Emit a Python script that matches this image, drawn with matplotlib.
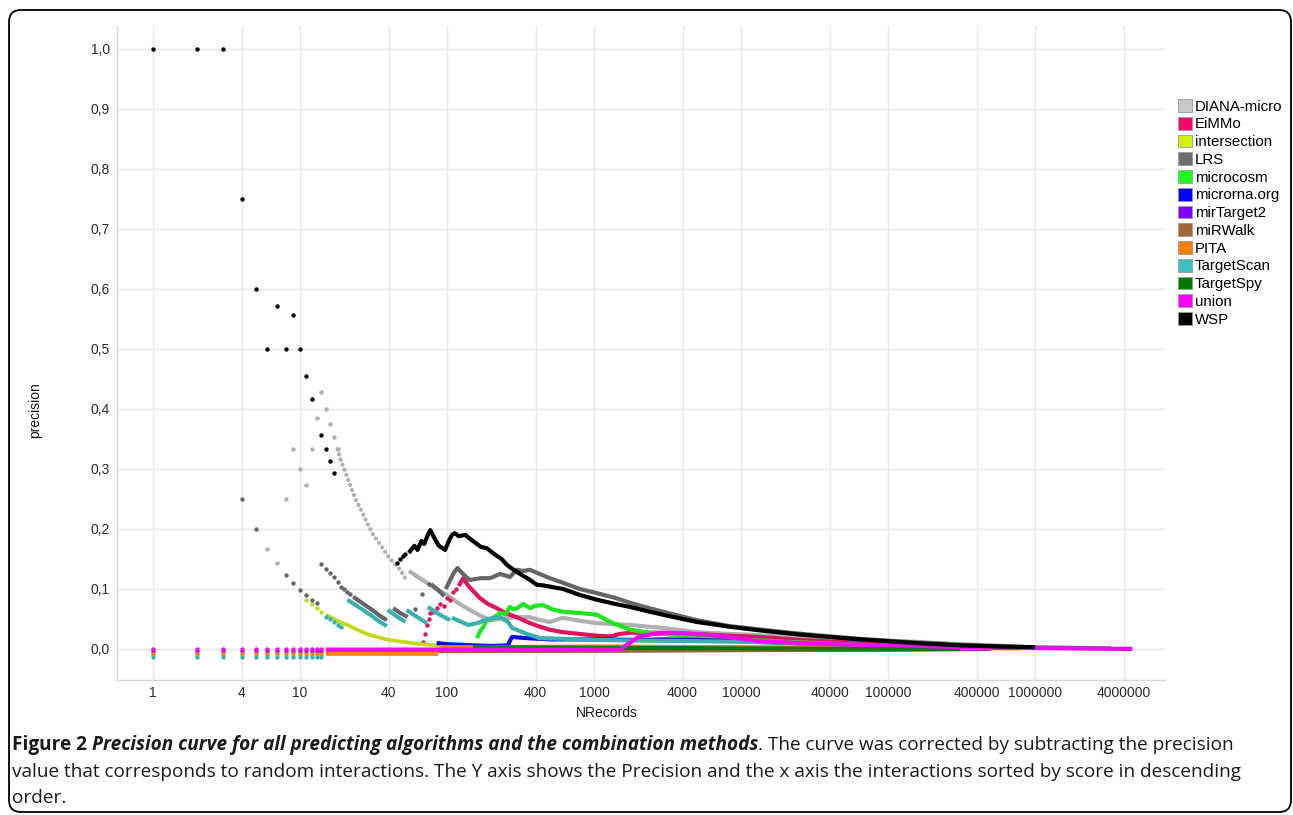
import matplotlib
matplotlib.use('Agg')
import matplotlib.pyplot as plt
from matplotlib.patches import Patch, FancyBboxPatch
from matplotlib.ticker import NullLocator
from matplotlib.transforms import IdentityTransform

nan = float('nan')

# legend order = drawing order
series_names = ['DIANA-micro', 'EiMMo', 'intersection', 'LRS', 'microcosm', 'microrna.org',
                'mirTarget2', 'miRWalk', 'PITA', 'TargetScan', 'TargetSpy', 'union', 'WSP']
series_colors = ['#B0B0B0', '#DE135E', '#C3D91E', '#666666', '#1EE61E', '#0A0AE6',
                 '#8A0AF0', '#9A6633', '#FF7F0A', '#3AB0B0', '#0A780A', '#F00AF0', '#000000']
swatch_colors = ['#C8C8C8', '#F0086A', '#D2F00F', '#6E6E6E', '#1EFF1E', '#0000FF',
                 '#8000FF', '#A0683A', '#FF8000', '#3CC0C0', '#007800', '#FF00FF', '#000000']

x_ticks = [1, 4, 10, 40, 100, 400, 1000, 4000, 10000, 40000, 100000, 400000, 1000000, 4000000]
y_ticks = [0.0, 0.1, 0.2, 0.3, 0.4, 0.5, 0.6, 0.7, 0.8, 0.9, 1.0]

# first records, shown as separate points near zero
zero_n = [1, 2, 3, 4, 5, 6, 7, 8, 9, 10, 11, 12, 13, 14]
zero_union = [0.0] * 14
zero_mirtarget2 = [-0.004] * 14
zero_pita = [-0.008] * 14
zero_targetscan = [-0.013] * 14

# WSP
wsp_dot_n = [1, 2, 3, 4, 5, 6, 7, 8, 9, 10, 11, 12, 14, 15, 16, 17, 46, 48, 50, 52]
wsp_dot_p = [1.0, 1.0, 1.0, 0.75, 0.6, 0.5, 0.571, 0.5, 0.556, 0.5, 0.455, 0.417, 0.357,
             0.333, 0.313, 0.294, 0.143, 0.15, 0.155, 0.158]
wsp_line_n = [55, 60, 63, 67, 70, 74, 77, 82, 88, 93, 97, 103, 108, 113, 120, 133, 150, 170,
              186, 210, 235, 256, 280, 300, 340, 367, 408, 450, 500, 615, 800, 1047, 1400,
              1758, 2300, 2950, 4000, 5000, 6500, 8400, 13400, 25000, 40000, 64000, 150000,
              310000, 600000, 1000000]
wsp_line_p = [0.16, 0.172, 0.165, 0.18, 0.175, 0.19, 0.198, 0.185, 0.172, 0.168, 0.165, 0.18,
              0.19, 0.193, 0.188, 0.19, 0.18, 0.17, 0.168, 0.158, 0.15, 0.14, 0.133, 0.128,
              0.12, 0.115, 0.107, 0.106, 0.104, 0.1, 0.09, 0.082, 0.075, 0.07, 0.063, 0.057,
              0.05, 0.045, 0.041, 0.037, 0.031, 0.024, 0.02, 0.016, 0.01, 0.006, 0.004, 0.003]

# LRS
lrs_dot_n = [4, 5, 8, 9, 10, 11, 12, 13, 14, 15, 16, 17, 18, 19, 20, 21, 22, 61, 68, 75]
lrs_dot_p = [0.25, 0.2, 0.123, 0.11, 0.098, 0.09, 0.082, 0.077, 0.142, 0.133, 0.127, 0.12,
             0.111, 0.104, 0.1, 0.095, 0.091, 0.067, 0.092, 0.108]
lrs_line_n = [23, 27, 31, 35, 39, 41, 43, 48, 54, 60, 78, 88, 96, 97, 98, 105, 112, 118, 125,
              135, 143, 170, 196, 230, 268, 297, 330, 367, 408, 500, 588, 800, 1047, 1400,
              1758, 2300, 2950, 4000, 5000, 6500, 8400, 14000, 21700, 40000, 64000, 150000,
              310000, 830000, 3300000]
lrs_line_p = [0.087, 0.075, 0.065, 0.055, 0.048, nan, 0.068, 0.06, 0.053, nan, 0.108, 0.097,
              0.088, nan, 0.1, 0.115, 0.128, 0.135, 0.128, 0.12, 0.115, 0.118, 0.118, 0.125,
              0.12, 0.132, 0.13, 0.132, 0.127, 0.118, 0.112, 0.1, 0.093, 0.085, 0.077, 0.069,
              0.062, 0.054, 0.048, 0.043, 0.038, 0.032, 0.027, 0.021, 0.017, 0.011, 0.007,
              0.003, 0.001]

# DIANA-micro
diana_dot_n = [6, 7, 8, 9, 10, 11, 12, 13, 14, 15, 16, 17, 18]
diana_dot_p = [0.167, 0.143, 0.25, 0.333, 0.3, 0.273, 0.333, 0.385, 0.429, 0.4, 0.375, 0.353,
               0.333]
diana_dotted_n = [18, 19, 20, 21, 22, 23, 24, 26, 28, 31, 36, 41, 48, 53]
diana_dotted_p = [0.333, 0.313, 0.3, 0.285, 0.272, 0.26, 0.248, 0.232, 0.215, 0.193, 0.17,
                  0.15, 0.132, 0.115]
diana_line_n = [55, 70, 85, 100, 120, 143, 170, 196, 230, 297, 367, 430, 500, 615, 800, 1047,
                1758, 2950, 5000, 8400, 13400, 21700, 64000, 150000, 310000, 830000]
diana_line_p = [0.13, 0.113, 0.1, 0.09, 0.076, 0.065, 0.055, 0.048, 0.05, 0.053, 0.053, 0.048,
                0.045, 0.052, 0.047, 0.043, 0.04, 0.035, 0.028, 0.025, 0.023, 0.02, 0.015,
                0.012, 0.008, 0.004]

# EiMMo
eimmo_dot_n = [69, 71, 73, 75, 77, 80, 85, 90, 95, 100, 105, 110, 115]
eimmo_dot_p = [0.012, 0.025, 0.04, 0.05, 0.06, 0.062, 0.068, 0.075, 0.072, 0.085, 0.082, 0.095,
               0.1]
eimmo_line_n = [120, 125, 129, 140, 167, 190, 218, 250, 297, 367, 430, 500, 615, 800, 1047,
                1300, 1500, 1758, 2950, 5000, 8400, 13400, 25000, 64000, 150000, 310000]
eimmo_line_p = [0.105, 0.112, 0.118, 0.105, 0.085, 0.075, 0.068, 0.06, 0.053, 0.043, 0.037,
                0.032, 0.028, 0.025, 0.022, 0.021, 0.025, 0.027, 0.027, 0.025, 0.022, 0.02,
                0.015, 0.01, 0.006, 0.004]

# intersection
inter_dot_n = [11, 12, 13, 14]
inter_dot_p = [0.082, 0.075, 0.068, 0.062]
inter_line_n = [15, 17, 19, 21, 25, 30, 40, 50, 65, 77, 90]
inter_line_p = [0.057, 0.05, 0.044, 0.04, 0.031, 0.023, 0.015, 0.012, 0.008, 0.007, 0.005]

# microcosm
mc_line_n = [160, 168, 175, 186, 200, 215, 230, 250, 268, 285, 300, 330, 367, 400, 450, 520,
             615, 800, 1047, 1290, 1758, 2400, 4000, 8000, 20000, 64000, 150000]
mc_line_p = [0.018, 0.03, 0.035, 0.048, 0.05, 0.055, 0.06, 0.058, 0.07, 0.066, 0.068, 0.075,
             0.068, 0.072, 0.073, 0.066, 0.062, 0.06, 0.057, 0.045, 0.032, 0.027, 0.022,
             0.017, 0.012, 0.007, 0.004]

# microrna.org
mrna_line_n = [85, 100, 150, 200, 260, 270, 277, 350, 500, 1047, 2000, 3000, 5000, 10000,
               20000, 50000, 100000]
mrna_line_p = [0.01, 0.008, 0.006, 0.005, 0.006, 0.015, 0.02, 0.018, 0.016, 0.016, 0.015,
               0.016, 0.015, 0.013, 0.01, 0.006, 0.004]

# mirTarget2, miRWalk, PITA, TargetSpy (close to zero)
mt2_line_n = [15, 1000, 100000, 500000]
mt2_line_p = [-0.003, -0.002, -0.001, 0.0]
mrw_line_n = [15, 1000, 100000, 200000]
mrw_line_p = [-0.004, -0.003, -0.001, 0.0]
pita_line_n = [15, 87, 88, 90, 200, 1000, 10000, 100000, 800000]
pita_line_p = [-0.008, -0.008, nan, 0.003, 0.003, 0.004, 0.003, 0.002, 0.001]
tspy_line_n = [150, 1000, 10000, 100000, 310000]
tspy_line_p = [0.003, 0.002, 0.001, 0.0, 0.0]

# TargetScan
ts_dot_n = [15, 16, 17, 18, 19]
ts_dot_p = [0.053, 0.05, 0.045, 0.04, 0.037]
ts_line_n = [21, 25, 30, 35, 39, 39.2, 39.5, 45, 52, 52.5, 53, 62, 73, 73.5, 74, 88, 105, 106,
             108, 125, 140, 160, 190, 230, 260, 277, 350, 430, 615, 1047, 2000, 5000, 10000,
             30000, 100000, 200000]
ts_line_p = [0.082, 0.07, 0.057, 0.045, 0.038, nan, 0.065, 0.055, 0.045, nan, 0.065, 0.054,
             0.043, nan, 0.07, 0.058, 0.048, nan, 0.052, 0.045, 0.04, 0.043, 0.05, 0.053,
             0.045, 0.035, 0.025, 0.018, 0.017, 0.015, 0.014, 0.013, 0.012, 0.009, 0.005,
             0.003]

# union
union_line_n = [15, 1500, 1700, 2000, 2500, 3150, 4000, 6400, 13400, 25000, 64000, 120000,
                310000, 575000, 4600000]
union_line_p = [-0.001, -0.001, 0.008, 0.02, 0.025, 0.027, 0.026, 0.023, 0.013, 0.01, 0.007,
                0.006, 0.003, 0.002, 0.0]

W, H = 1293, 815
fig = plt.figure(figsize=(W / 100, H / 100), dpi=100)
fig.patch.set_facecolor('white')

ax = fig.add_axes([117 / W, 1 - 680 / H, (1165 - 117) / W, (680 - 26) / H])
ax.set_xscale('log')
ax.set_xlim(0.569, 7.66e6)
ax.set_ylim(-0.0517, 1.038)

col = dict(zip(series_names, series_colors))
LW = 3.0
DOT = 10


def dots(n, p, name, z):
    ax.scatter(n, p, s=DOT, color=col[name], linewidths=0, zorder=z)


def line(n, p, name, z, lw=LW):
    ax.plot(n, p, color=col[name], lw=lw, solid_capstyle='butt', zorder=z)


def dotted(n, p, name, z):
    ax.plot(n, p, color=col[name], lw=3.0, linestyle=(0, (0.05, 1.25)),
            dash_capstyle='round', zorder=z)


z = 3
dotted(diana_dotted_n, diana_dotted_p, 'DIANA-micro', z)
dots(diana_dot_n, diana_dot_p, 'DIANA-micro', z)
line(diana_line_n, diana_line_p, 'DIANA-micro', z)
z += 1
dots(eimmo_dot_n, eimmo_dot_p, 'EiMMo', z)
line(eimmo_line_n, eimmo_line_p, 'EiMMo', z)
z += 1
dots(inter_dot_n, inter_dot_p, 'intersection', z)
line(inter_line_n, inter_line_p, 'intersection', z, lw=2.7)
z += 1
dots(lrs_dot_n, lrs_dot_p, 'LRS', z)
line(lrs_line_n, lrs_line_p, 'LRS', z)
z += 1
line(mc_line_n, mc_line_p, 'microcosm', z)
z += 1
line(mrna_line_n, mrna_line_p, 'microrna.org', z)
z += 1
dots(zero_n, zero_mirtarget2, 'mirTarget2', z)
line(mt2_line_n, mt2_line_p, 'mirTarget2', z)
z += 1
line(mrw_line_n, mrw_line_p, 'miRWalk', z)
z += 1
dots(zero_n, zero_pita, 'PITA', z)
line(pita_line_n, pita_line_p, 'PITA', z)
z += 1
dots(zero_n, zero_targetscan, 'TargetScan', z)
dots(ts_dot_n, ts_dot_p, 'TargetScan', z)
line(ts_line_n, ts_line_p, 'TargetScan', z)
z += 1
line(tspy_line_n, tspy_line_p, 'TargetSpy', z)
z += 1
dots(zero_n, zero_union, 'union', z)
line(union_line_n, union_line_p, 'union', z)
z += 1
dots(wsp_dot_n, wsp_dot_p, 'WSP', z)
line(wsp_line_n, wsp_line_p, 'WSP', z)

# axes styling
ax.set_xticks(x_ticks)
ax.set_xticklabels([str(t) for t in x_ticks])
ax.xaxis.set_minor_locator(NullLocator())
ax.set_yticks(y_ticks)
ax.set_yticklabels([('%.1f' % t).replace('.', ',') for t in y_ticks])
ax.grid(True, color='#E6E6E6', lw=1.0, zorder=0)
ax.set_axisbelow(True)
for side in ['top', 'right']:
    ax.spines[side].set_visible(False)
for side in ['left', 'bottom']:
    ax.spines[side].set_color('#D9D9D9')
    ax.spines[side].set_linewidth(1.0)
ax.tick_params(axis='both', length=0, labelsize=10, labelcolor='#2B2B2B')
ax.tick_params(axis='y', pad=5)
ax.tick_params(axis='x', pad=4)
for lab in ax.get_xticklabels() + ax.get_yticklabels():
    lab.set_family('Liberation Sans')

fig.text(35 / W, 1 - 410 / H, 'precision', rotation=90, ha='center', va='center',
         fontsize=10, family='Liberation Sans', color='#1A1A1A')
fig.text(607 / W, 1 - 713 / H, 'NRecords', ha='center', va='center',
         fontsize=10, family='Liberation Sans', color='#1A1A1A')

# legend
handles = [Patch(facecolor=c, edgecolor='#9A9A9A', linewidth=0.6) for c in swatch_colors]
leg = fig.legend(handles, series_names, loc='upper left',
                 bbox_to_anchor=(1178 / W, 1 - 99 / H), frameon=False,
                 prop={'family': 'Liberation Sans', 'size': 10.8},
                 handlelength=0.93, handleheight=0.93, handletextpad=0.2,
                 labelspacing=0.215, borderpad=0, borderaxespad=0)

# rounded frame around the figure panel
frame = FancyBboxPatch((9, 3), 1282, 802, boxstyle='round,pad=0,rounding_size=12',
                       transform=IdentityTransform(), fill=False, edgecolor='black',
                       linewidth=1.3)
fig.patches.append(frame)

# caption
cap_lines = [
    [('Figure 2 ', 'bold', 'normal'),
     ('Precision curve for all predicting algorithms and the combination methods',
      'bold', 'italic'),
     ('. The curve was corrected by subtracting the precision', 'normal', 'normal')],
    [('value that corresponds to random interactions. The Y axis shows the Precision and '
      'the x axis the interactions sorted by score in descending', 'normal', 'normal')],
    [('order.', 'normal', 'normal')],
]
cap_targets = [1266, 1221, None]
cap_base = [65, 38, 12]
cap_x0 = 12

fig.canvas.draw()
renderer = fig.canvas.get_renderer()


def piece_width(txt, weight, style, size):
    t = fig.text(0, 0, txt, fontsize=size, fontweight=weight, fontstyle=style,
                 family='Open Sans', transform=IdentityTransform())
    w = t.get_window_extent(renderer).width
    t.remove()
    return w


base_size = 12
scales = []
for pieces, target in zip(cap_lines, cap_targets):
    if target:
        w = sum(piece_width(t, wt, st, base_size) for t, wt, st in pieces)
        scales.append(target / w)
cap_size = base_size * min(scales)

for pieces, yb in zip(cap_lines, cap_base):
    x = cap_x0
    for txt, wt, st in pieces:
        t = fig.text(x, yb, txt, fontsize=cap_size, fontweight=wt, fontstyle=st,
                     family='Open Sans', color='#1A1A1A', va='baseline',
                     transform=IdentityTransform())
        x += t.get_window_extent(renderer).width

fig.savefig('out.png', dpi=100, facecolor='white')
